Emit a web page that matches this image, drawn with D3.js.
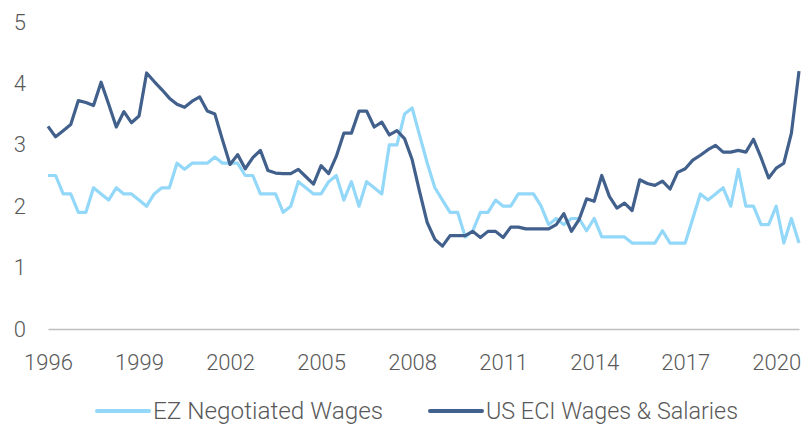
<!DOCTYPE html>
<html>
<head>
<meta charset="utf-8">
<script src="https://cdn.jsdelivr.net/npm/d3@7"></script>
<style>
  body { margin: 0; background: #fff; }
  svg { display: block; font-family: Roboto, "Open Sans", sans-serif; }
</style>
</head>
<body>
<div id="chart"></div>
<script>
// quarterly series, first point 1996 Q1
var startYear = 1996;
var yearTicks = [1996, 1999, 2002, 2005, 2008, 2011, 2014, 2017, 2020];
var valueTicks = [0, 1, 2, 3, 4, 5];
var seriesNames = ["EZ Negotiated Wages", "US ECI Wages & Salaries"];

var ezWages = [
  2.5, 2.5, 2.2, 2.2, 1.9, 1.9, 2.3, 2.2, 2.1, 2.3,
  2.2, 2.2, 2.1, 2.0, 2.2, 2.3, 2.3, 2.7, 2.6, 2.7,
  2.7, 2.7, 2.8, 2.7, 2.7, 2.7, 2.5, 2.5, 2.2, 2.2,
  2.2, 1.9, 2.0, 2.4, 2.3, 2.2, 2.2, 2.4, 2.5, 2.1,
  2.4, 2.0, 2.4, 2.3, 2.2, 3.0, 3.0, 3.5, 3.6, 3.15,
  2.7, 2.3, 2.1, 1.9, 1.9, 1.5, 1.6, 1.9, 1.9, 2.1,
  2.0, 2.0, 2.2, 2.2, 2.2, 2.0, 1.7, 1.8, 1.7, 1.8,
  1.8, 1.6, 1.8, 1.5, 1.5, 1.5, 1.5, 1.4, 1.4, 1.4,
  1.4, 1.6, 1.4, 1.4, 1.4, 1.8, 2.2, 2.1, 2.2, 2.3,
  2.0, 2.6, 2.0, 2.0, 1.7, 1.7, 2.0, 1.4, 1.8, 1.4
];

var usEci = [
  3.30, 3.13, 3.23, 3.33, 3.72, 3.69, 3.64, 4.02, 3.66, 3.29,
  3.54, 3.36, 3.47, 4.17, 4.03, 3.90, 3.76, 3.66, 3.61, 3.71,
  3.78, 3.55, 3.50, 3.08, 2.68, 2.84, 2.61, 2.79, 2.91, 2.58,
  2.54, 2.53, 2.53, 2.60, 2.48, 2.36, 2.66, 2.53, 2.81, 3.19,
  3.19, 3.55, 3.55, 3.29, 3.37, 3.16, 3.23, 3.10, 2.76, 2.23,
  1.73, 1.46, 1.35, 1.52, 1.52, 1.52, 1.59, 1.49, 1.59, 1.59,
  1.49, 1.66, 1.66, 1.63, 1.63, 1.63, 1.63, 1.70, 1.88, 1.59,
  1.78, 2.12, 2.08, 2.50, 2.16, 1.97, 2.05, 1.93, 2.43, 2.37,
  2.34, 2.41, 2.28, 2.55, 2.61, 2.75, 2.83, 2.92, 2.99, 2.88,
  2.88, 2.91, 2.88, 3.09, 2.79, 2.46, 2.62, 2.70, 3.19, 4.20
];

var colors = ["#93d8f8", "#42608c"];

var width = 808,
  height = 431;

var svg = d3.select("#chart").append("svg").attr("width", width).attr("height", height);

var x = d3.scaleLinear().domain([startYear, startYear + (ezWages.length - 1) / 4]).range([48, 799]);
var y = d3.scaleLinear().domain([0, 5]).range([329, 22]);

// y labels
svg
  .append("g")
  .attr("transform", "translate(48,0)")
  .call(d3.axisLeft(y).tickValues(valueTicks).tickFormat(d3.format("d")).tickSize(0).tickPadding(22))
  .call(function (g) {
    g.select(".domain").remove();
  })
  .selectAll("text")
  .attr("font-family", "Roboto")
  .attr("font-weight", 300)
  .attr("font-size", 22)
  .attr("fill", "#595959");

// x axis
svg
  .append("g")
  .attr("transform", "translate(0," + y(0) + ")")
  .call(d3.axisBottom(x).tickValues(yearTicks).tickFormat(d3.format("d")).tickSize(0).tickPadding(25))
  .call(function (g) {
    g.select(".domain").attr("stroke", "#bfbfbf").attr("stroke-width", 1.5);
  })
  .selectAll("text")
  .attr("font-family", "Roboto")
  .attr("font-weight", 300)
  .attr("font-size", 22)
  .attr("fill", "#595959");

var line = d3
  .line()
  .x(function (d, i) {
    return x(startYear + i / 4);
  })
  .y(function (d) {
    return y(d);
  });

svg
  .append("g")
  .attr("fill", "none")
  .attr("stroke-width", 3.2)
  .attr("stroke-linejoin", "round")
  .selectAll("path")
  .data([ezWages, usEci])
  .join("path")
  .attr("stroke", function (d, i) {
    return colors[i];
  })
  .attr("d", line);

// legend
var legendX = [97, 430];
var legendW = [230, 252];
var legend = svg
  .append("g")
  .selectAll("g")
  .data(seriesNames)
  .join("g")
  .attr("transform", function (d, i) {
    return "translate(" + legendX[i] + ",411)";
  });

legend
  .append("line")
  .attr("x1", 0)
  .attr("x2", 52)
  .attr("stroke", function (d, i) {
    return colors[i];
  })
  .attr("stroke-width", 4)
  .attr("stroke-linecap", "round");

legend
  .append("text")
  .attr("x", 56)
  .attr("dy", "0.35em")
  .attr("font-family", "Roboto")
  .attr("font-weight", 300)
  .attr("font-size", 23)
  .attr("fill", "#595959")
  .attr("textLength", function (d, i) {
    return legendW[i];
  })
  .attr("lengthAdjust", "spacingAndGlyphs")
  .text(function (d) {
    return d;
  });
</script>
</body>
</html>
